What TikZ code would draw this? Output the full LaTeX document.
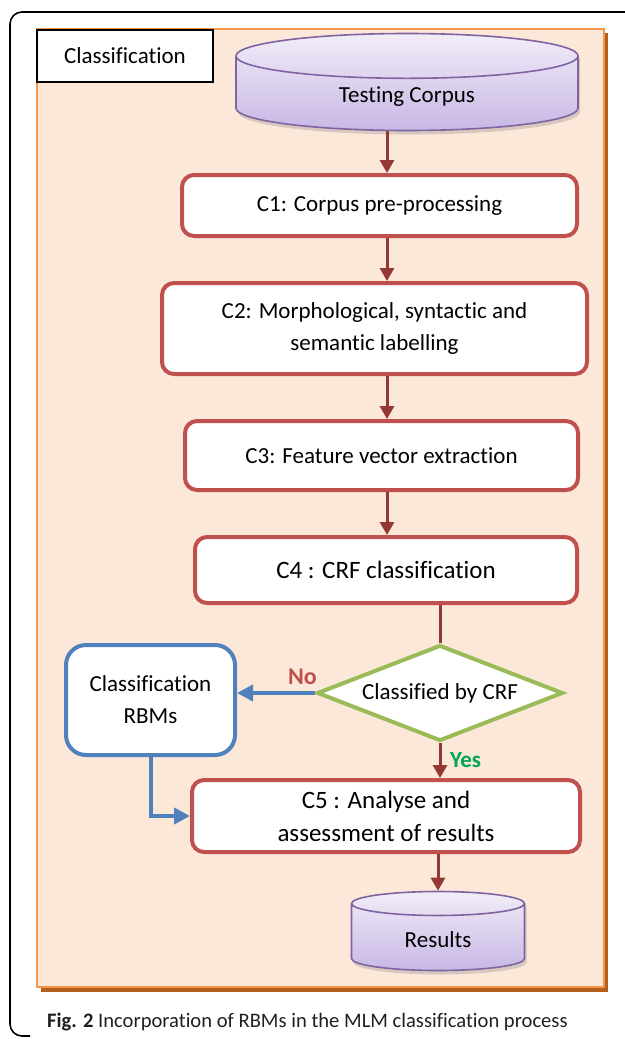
\documentclass[tikz,border=0pt]{standalone}
\usepackage{fontspec}
\setmainfont{Carlito}[Ligatures=NoCommon]
\usetikzlibrary{arrows.meta,positioning,shapes.geometric,shadows}

\definecolor{panelfill}{HTML}{FCE8D9}
\definecolor{paneledge}{HTML}{F79646}
\definecolor{panelshade}{HTML}{B45F1E}
\definecolor{stepred}{HTML}{C0504D}
\definecolor{flowred}{HTML}{953735}
\definecolor{rbmblue}{HTML}{4F81BD}
\definecolor{testgreen}{HTML}{9BBB59}
\definecolor{yesgreen}{HTML}{00A651}
\definecolor{dbedge}{HTML}{8064A2}
\definecolor{dbtop}{HTML}{F1EDF8}
\definecolor{dbbottom}{HTML}{C8B7E5}
\definecolor{captiongray}{HTML}{231F20}

\begin{document}
\begin{tikzpicture}[x=0.5pt,y=-0.5pt,
  stepbox/.style={draw=stepred,line width=2pt,rounded corners=6pt,fill=white,
    align=center,inner sep=0pt,font=\fontsize{11.5}{16}\selectfont},
  rbmbox/.style={draw=rbmblue,line width=2pt,rounded corners=10pt,fill=white,
    align=center,inner sep=0pt,font=\fontsize{11.5}{16}\selectfont},
  testbox/.style={diamond,draw=testgreen,line width=2pt,fill=white,aspect=2.6,
    inner sep=0pt,font=\fontsize{11.5}{14}\selectfont},
  corpus/.style={cylinder,shape border rotate=90,draw=dbedge,line width=0.8pt,
    top color=dbtop,bottom color=dbbottom,anchor=shape center,
    drop shadow={opacity=0.3,shadow xshift=1pt,shadow yshift=-2pt},
    font=\fontsize{11.5}{14}\selectfont},
  flow/.style={draw=flowred,line width=1.5pt,-{Triangle[width=7pt,length=6.5pt]}},
  rbmflow/.style={draw=rbmblue,line width=2pt,-{Triangle[width=8pt,length=8pt]}},
]
\useasboundingbox (0,0) rectangle (625,1039);
\clip (0,0) rectangle (625,1039);

% frame and panel
\draw[line width=0.8pt,rounded corners=6pt] (640,12) -- (10,12) -- (10,1036) -- (30,1036);
\fill[panelshade] (41,33) rectangle (608,992);
\draw[paneledge,line width=1pt,fill=panelfill] (37,29) rectangle (604,987);
\node[draw=black,line width=0.6pt,fill=white,minimum width=88pt,minimum height=26pt,
  inner sep=0pt,font=\fontsize{11.5}{14}\selectfont] (phase) at (125,56) {Classification};

% steps
\node[corpus,minimum width=171pt,minimum height=48.5pt,aspect=0.3] (testing) at (407,82) {Testing Corpus};
\node[stepbox,minimum width=197.5pt,minimum height=30.5pt] (c1) at (379.5,205.5) {C1: Corpus pre-processing};
\node[stepbox,minimum width=212.5pt,minimum height=45.5pt] (c2) at (374.5,328.5) {C2: Morphological, syntactic and\\semantic labelling};
\node[stepbox,minimum width=196.5pt,minimum height=34.5pt] (c3) at (381.5,455.5) {C3: Feature vector extraction};
\node[stepbox,minimum width=191pt,minimum height=33pt,font=\fontsize{12.5}{16}\selectfont] (c4) at (386,570) {C4 : CRF classification};
\node[testbox,minimum width=123pt,minimum height=48pt] (test) at (440,693) {Classified by CRF};
\node[rbmbox,minimum width=84.5pt,minimum height=55pt] (rbm) at (150.5,700) {Classification\\RBMs};
\node[stepbox,minimum width=194pt,minimum height=36pt,font=\fontsize{12.5}{16.5}\selectfont] (c5) at (386,816) {C5 : Analyse and\\assessment of results};
\node[corpus,minimum width=86.5pt,minimum height=39.5pt,aspect=0.3] (results) at (438,931) {Results};

\coordinate (spine) at (387,0);

% connectors
\draw[flow] (testing.south -| spine) -- (c1.north -| spine);
\draw[flow] (c1.south -| spine) -- (c2.north -| spine);
\draw[flow] (c2.south -| spine) -- (c3.north -| spine);
\draw[flow] (c3.south -| spine) -- (c4.north -| spine);
\draw[flow,-] (test.north |- c4.south) -- (test.north);
\draw[rbmflow] (test.west) -- (test.west -| rbm.east)
  node[pos=0.16,above=0pt,text=stepred,font=\bfseries\fontsize{12}{14}\selectfont] {No};
\draw[flow] (test.south) -- (test.south |- c5.north)
  node[pos=0.5,right=1pt,text=yesgreen,font=\bfseries\fontsize{11.5}{14}\selectfont] {Yes};
\draw[rbmflow] (rbm.south) |- (c5.west);
\draw[flow] (results.north |- c5.south) -- (results.north);

\node[anchor=west,text=captiongray,font=\fontsize{10.3}{12}\selectfont] (caption) at (40,1022)
  {\textbf{Fig. 2} Incorporation of RBMs in the MLM classification process};
\end{tikzpicture}
\end{document}
